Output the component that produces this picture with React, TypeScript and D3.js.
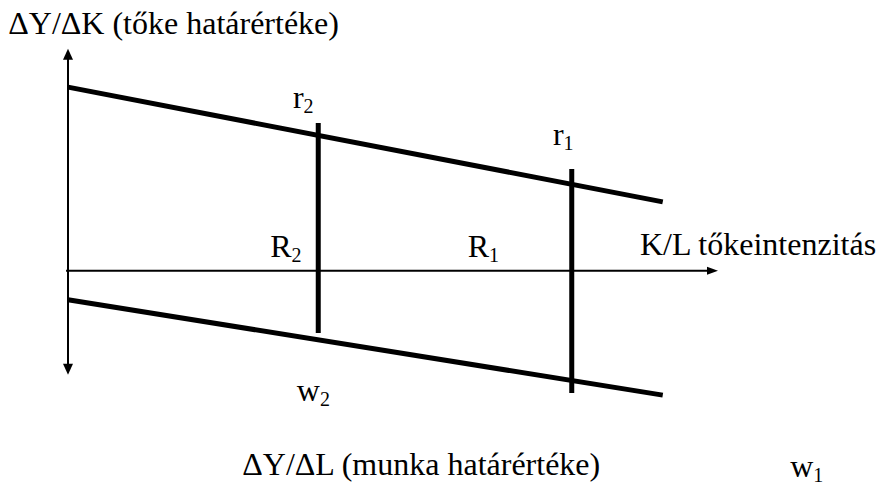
import React from 'react'
import * as d3 from 'd3'

// Diagram in abstract units: x = K/L (0..100), y = marginal value (0 at the K/L axis, up positive)
const axisX = [-0.3, 100]
const axisY = [-52, 111]
const capitalLine = [[0, 91.8], [91.5, 34.4]]   // ΔY/ΔK, tőke határértéke
const labourLine = [[0, -14.5], [91.5, -62.2]]  // ΔY/ΔL, munka határértéke
const rateLevels = [
  { name: 'r2', x: 38.5, y0: -31.2, y1: 73.8 },
  { name: 'r1', x: 77.5, y0: -61.2, y1: 50.8 },
]
// letter labels with subscript: [letter, subscript, x, y]
const symbolLabels: [string, string, number, number][] = [
  ['r', '2', 34.6, 81.3],
  ['r', '1', 74.6, 62.8],
  ['R', '2', 31.1, 6.8],
  ['R', '1', 61.5, 6.8],
  ['w', '2', 35.2, -65.2],
  ['w', '1', 111.1, -103.2],
]
// plain text labels: [text, x, y]
const textLabels: [string, number, number][] = [
  ['ΔY/ΔK (tőke határértéke)', -9.2, 118.4],
  ['K/L tőkeintenzitás', 88, 7.8],
  ['ΔY/ΔL (munka határértéke)', 26.8, -102.2],
]

const W = 878
const H = 486
const FONT = "'Liberation Serif', 'Times New Roman', 'DejaVu Serif', serif"
const FS = 32
const SUB = 20

const x = d3.scaleLinear().domain([0, 100]).range([68, 718])
const y = d3.scaleLinear().domain([-100, 100]).range([470.7, 70.7])

const line = d3.line<number[]>().x(d => x(d[0])).y(d => y(d[1]))

export default function App() {
  const ax0 = x(0)
  const ay0 = y(0)
  const top = y(axisY[1])
  const bottom = y(axisY[0])
  const right = x(axisX[1])
  const a = 10 // arrow length
  const h = 5  // arrow half width

  return (
    <svg width={W} height={H} style={{ position: 'absolute', left: 0, top: 0, background: '#fff' }}>
      {/* axes */}
      <g stroke="#000" strokeWidth={2} fill="none">
        <line x1={ax0} y1={top + a} x2={ax0} y2={bottom - a} />
        <line x1={x(axisX[0])} y1={ay0} x2={right - a} y2={ay0} />
      </g>
      <g fill="#000">
        <path d={`M${ax0},${top} L${ax0 - h},${top + a + 1} L${ax0 + h},${top + a + 1} Z`} />
        <path d={`M${ax0},${bottom} L${ax0 - h},${bottom - a - 1} L${ax0 + h},${bottom - a - 1} Z`} />
        <path d={`M${right},${ay0} L${right - a - 1},${ay0 - h + 1} L${right - a - 1},${ay0 + h - 1} Z`} />
      </g>

      {/* marginal product lines */}
      <path d={line(capitalLine) ?? ''} stroke="#000" strokeWidth={5} fill="none" />
      <path d={line(labourLine) ?? ''} stroke="#000" strokeWidth={5} fill="none" />

      {/* interest rate levels */}
      {rateLevels.map(r => (
        <line key={r.name} x1={x(r.x)} x2={x(r.x)} y1={y(r.y1)} y2={y(r.y0)} stroke="#000" strokeWidth={5} />
      ))}

      <g style={{ fontFamily: FONT }} fill="#000">
        {symbolLabels.map(([s, sub, lx, ly]) => (
          <text key={s + sub} x={x(lx)} y={y(ly)} fontSize={FS}>
            {s}
            <tspan fontSize={SUB} dy={5}>{sub}</tspan>
          </text>
        ))}
        {textLabels.map(([t, lx, ly]) => (
          <text key={t} x={x(lx)} y={y(ly)} fontSize={FS}>{t}</text>
        ))}
      </g>
    </svg>
  )
}
